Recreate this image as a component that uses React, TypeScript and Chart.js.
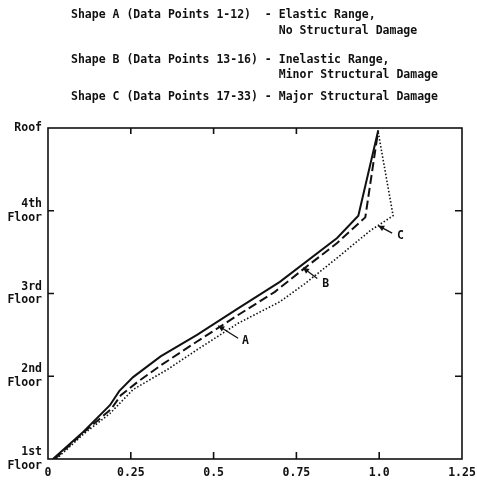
import React, { useEffect, useRef } from 'react';
import { Chart, registerables } from 'chart.js';

Chart.register(...registerables);

// ---- Data ----
const xTickValues = [0, 0.25, 0.5, 0.75, 1.0, 1.25];
const xTickLabels = ['0', '0.25', '0.5', '0.75', '1.0', '1.25'];
const floorValues = [0, 1, 2, 3, 4];
const floorLabels = [['1st', 'Floor'], ['2nd', 'Floor'], ['3rd', 'Floor'], ['4th', 'Floor'], ['Roof']];

// Shape A (solid)
const shapeAX = [0.015, 0.107, 0.187, 0.215, 0.257, 0.34, 0.45, 0.574, 0.70, 0.873, 0.937, 0.997];
const shapeAY = [0, 0.33, 0.65, 0.82, 0.99, 1.24, 1.5, 1.82, 2.14, 2.67, 2.94, 3.97];
// Shape B (dashed)
const shapeBX = [0.02, 0.107, 0.19, 0.22, 0.27, 0.34, 0.45, 0.574, 0.685, 0.776, 0.873, 0.958, 0.997];
const shapeBY = [0, 0.32, 0.6, 0.77, 0.93, 1.13, 1.42, 1.74, 2.02, 2.31, 2.61, 2.92, 3.97];
// Shape C (dotted)
const shapeCX = [0.025, 0.107, 0.187, 0.257, 0.36, 0.45, 0.574, 0.70, 0.776, 0.873, 0.973, 1.042, 0.997];
const shapeCY = [0, 0.3, 0.55, 0.84, 1.08, 1.32, 1.64, 1.9, 2.12, 2.43, 2.76, 2.94, 3.95];

// Callouts (data units)
const calloutLabels = ['A', 'B', 'C'];
const calloutTipX = [0.514, 0.770, 0.997];
const calloutTipY = [1.61, 2.31, 2.82];
const calloutTailX = [0.574, 0.813, 1.039];
const calloutTailY = [1.46, 2.18, 2.73];
const calloutTextX = [0.586, 0.828, 1.054];
const calloutTextY = [1.43, 2.12, 2.69];

const headerLines = [
  'Shape A (Data Points 1-12)  - Elastic Range,',
  '                              No Structural Damage',
  'Shape B (Data Points 13-16) - Inelastic Range,',
  '                              Minor Structural Damage',
  'Shape C (Data Points 17-33) - Major Structural Damage',
];

const FONT = '"DejaVu Sans Mono", "Liberation Mono", monospace';
const INK = '#111';

const toPts = (xs: number[], ys: number[]) => xs.map((x, i) => ({ x, y: ys[i] }));

const decorPlugin = {
  id: 'decor',
  afterDatasetsDraw(chart: any) {
    const { ctx, chartArea, scales } = chart;
    const { left, right, top, bottom } = chartArea;
    const xs = scales.x;
    const ys = scales.y;
    ctx.save();
    ctx.strokeStyle = INK;
    ctx.lineWidth = 1.6;
    ctx.setLineDash([]);
    ctx.strokeRect(left, top, right - left, bottom - top);

    const tl = 6;
    ctx.beginPath();
    xTickValues.forEach((v) => {
      if (v <= 0 || v >= 1.25) return;
      const px = xs.getPixelForValue(v);
      ctx.moveTo(px, bottom);
      ctx.lineTo(px, bottom - tl - 1);
      if (v < 1) {
        ctx.moveTo(px, top);
        ctx.lineTo(px, top + tl);
      }
    });
    floorValues.forEach((v) => {
      if (v <= 0 || v >= 4) return;
      const py = ys.getPixelForValue(v);
      ctx.moveTo(left, py);
      ctx.lineTo(left + tl, py);
      ctx.moveTo(right, py);
      ctx.lineTo(right - tl - 1, py);
    });
    ctx.stroke();

    // callouts
    ctx.font = `bold 11.5px ${FONT}`;
    ctx.fillStyle = INK;
    ctx.textBaseline = 'middle';
    ctx.textAlign = 'left';
    calloutLabels.forEach((lab, i) => {
      const tx = xs.getPixelForValue(calloutTipX[i]);
      const ty = ys.getPixelForValue(calloutTipY[i]);
      const sx = xs.getPixelForValue(calloutTailX[i]);
      const sy = ys.getPixelForValue(calloutTailY[i]);
      ctx.lineWidth = 1.3;
      ctx.beginPath();
      ctx.moveTo(sx, sy);
      ctx.lineTo(tx, ty);
      ctx.stroke();
      const ang = Math.atan2(ty - sy, tx - sx);
      const hl = 6, hw = 3;
      ctx.beginPath();
      ctx.moveTo(tx, ty);
      ctx.lineTo(tx - hl * Math.cos(ang) + hw * Math.sin(ang), ty - hl * Math.sin(ang) - hw * Math.cos(ang));
      ctx.lineTo(tx - hl * Math.cos(ang) - hw * Math.sin(ang), ty - hl * Math.sin(ang) + hw * Math.cos(ang));
      ctx.closePath();
      ctx.fill();
      ctx.fillText(lab, xs.getPixelForValue(calloutTextX[i]), ys.getPixelForValue(calloutTextY[i]));
    });

    // header
    const headerY = [15, 31, 60, 75, 97];
    headerLines.forEach((s, i) => ctx.fillText(s, 71, headerY[i]));
    ctx.restore();
  },
};

export default function App() {
  const ref = useRef<HTMLCanvasElement | null>(null);
  useEffect(() => {
    document.body.style.margin = '0';
    const canvas = ref.current;
    if (!canvas) return;
    const tickFont = { family: FONT, size: 11.5, weight: 'bold' };
    const chart = new Chart(canvas, {
      type: 'line',
      data: {
        datasets: [
          {
            label: 'Shape A',
            data: toPts(shapeAX, shapeAY),
            borderColor: INK,
            borderWidth: 2,
            pointRadius: 0,
            tension: 0,
            fill: false,
          },
          {
            label: 'Shape B',
            data: toPts(shapeBX, shapeBY),
            borderColor: INK,
            borderWidth: 2,
            borderDash: [9, 4],
            pointRadius: 0,
            tension: 0,
            fill: false,
          },
          {
            label: 'Shape C',
            data: toPts(shapeCX, shapeCY),
            borderColor: INK,
            borderWidth: 1.6,
            borderDash: [1.5, 2],
            pointRadius: 0,
            tension: 0,
            fill: false,
          },
        ],
      },
      options: {
        responsive: false,
        animation: false,
        layout: { padding: { top: 128, right: 15, left: 0, bottom: 0 } },
        plugins: { legend: { display: false }, tooltip: { enabled: false }, title: { display: false } },
        scales: {
          x: {
            type: 'linear',
            min: 0,
            max: 1.25,
            grid: { display: false, drawTicks: false },
            border: { display: false },
            afterBuildTicks: (s: any) => {
              s.ticks = xTickValues.map((v) => ({ value: v }));
            },
            afterFit: (s: any) => {
              s.height = 32;
              s.paddingRight = 0;
              s.paddingLeft = 0;
            },
            ticks: {
              autoSkip: false,
              maxRotation: 0,
              padding: 7,
              color: INK,
              font: tickFont,
              callback: (v: any) => {
                const i = xTickValues.findIndex((t) => Math.abs(t - Number(v)) < 1e-6);
                return i >= 0 ? xTickLabels[i] : '';
              },
            },
          },
          y: {
            type: 'linear',
            min: 0,
            max: 4,
            grid: { display: false, drawTicks: false },
            border: { display: false },
            afterBuildTicks: (s: any) => {
              s.ticks = floorValues.map((v) => ({ value: v }));
            },
            afterFit: (s: any) => {
              s.width = 48;
              s.paddingTop = 0;
              s.paddingBottom = 0;
            },
            ticks: {
              autoSkip: false,
              padding: 6,
              color: INK,
              font: tickFont,
              callback: (v: any) => {
                const i = floorValues.indexOf(Math.round(Number(v)));
                return i >= 0 ? floorLabels[i] : '';
              },
            },
          },
        },
      },
      plugins: [decorPlugin],
    } as any);
    return () => chart.destroy();
  }, []);
  return (
    <div style={{ width: 477, height: 491, background: '#fff' }}>
      <canvas ref={ref} width={477} height={491} style={{ display: 'block' }} />
    </div>
  );
}
